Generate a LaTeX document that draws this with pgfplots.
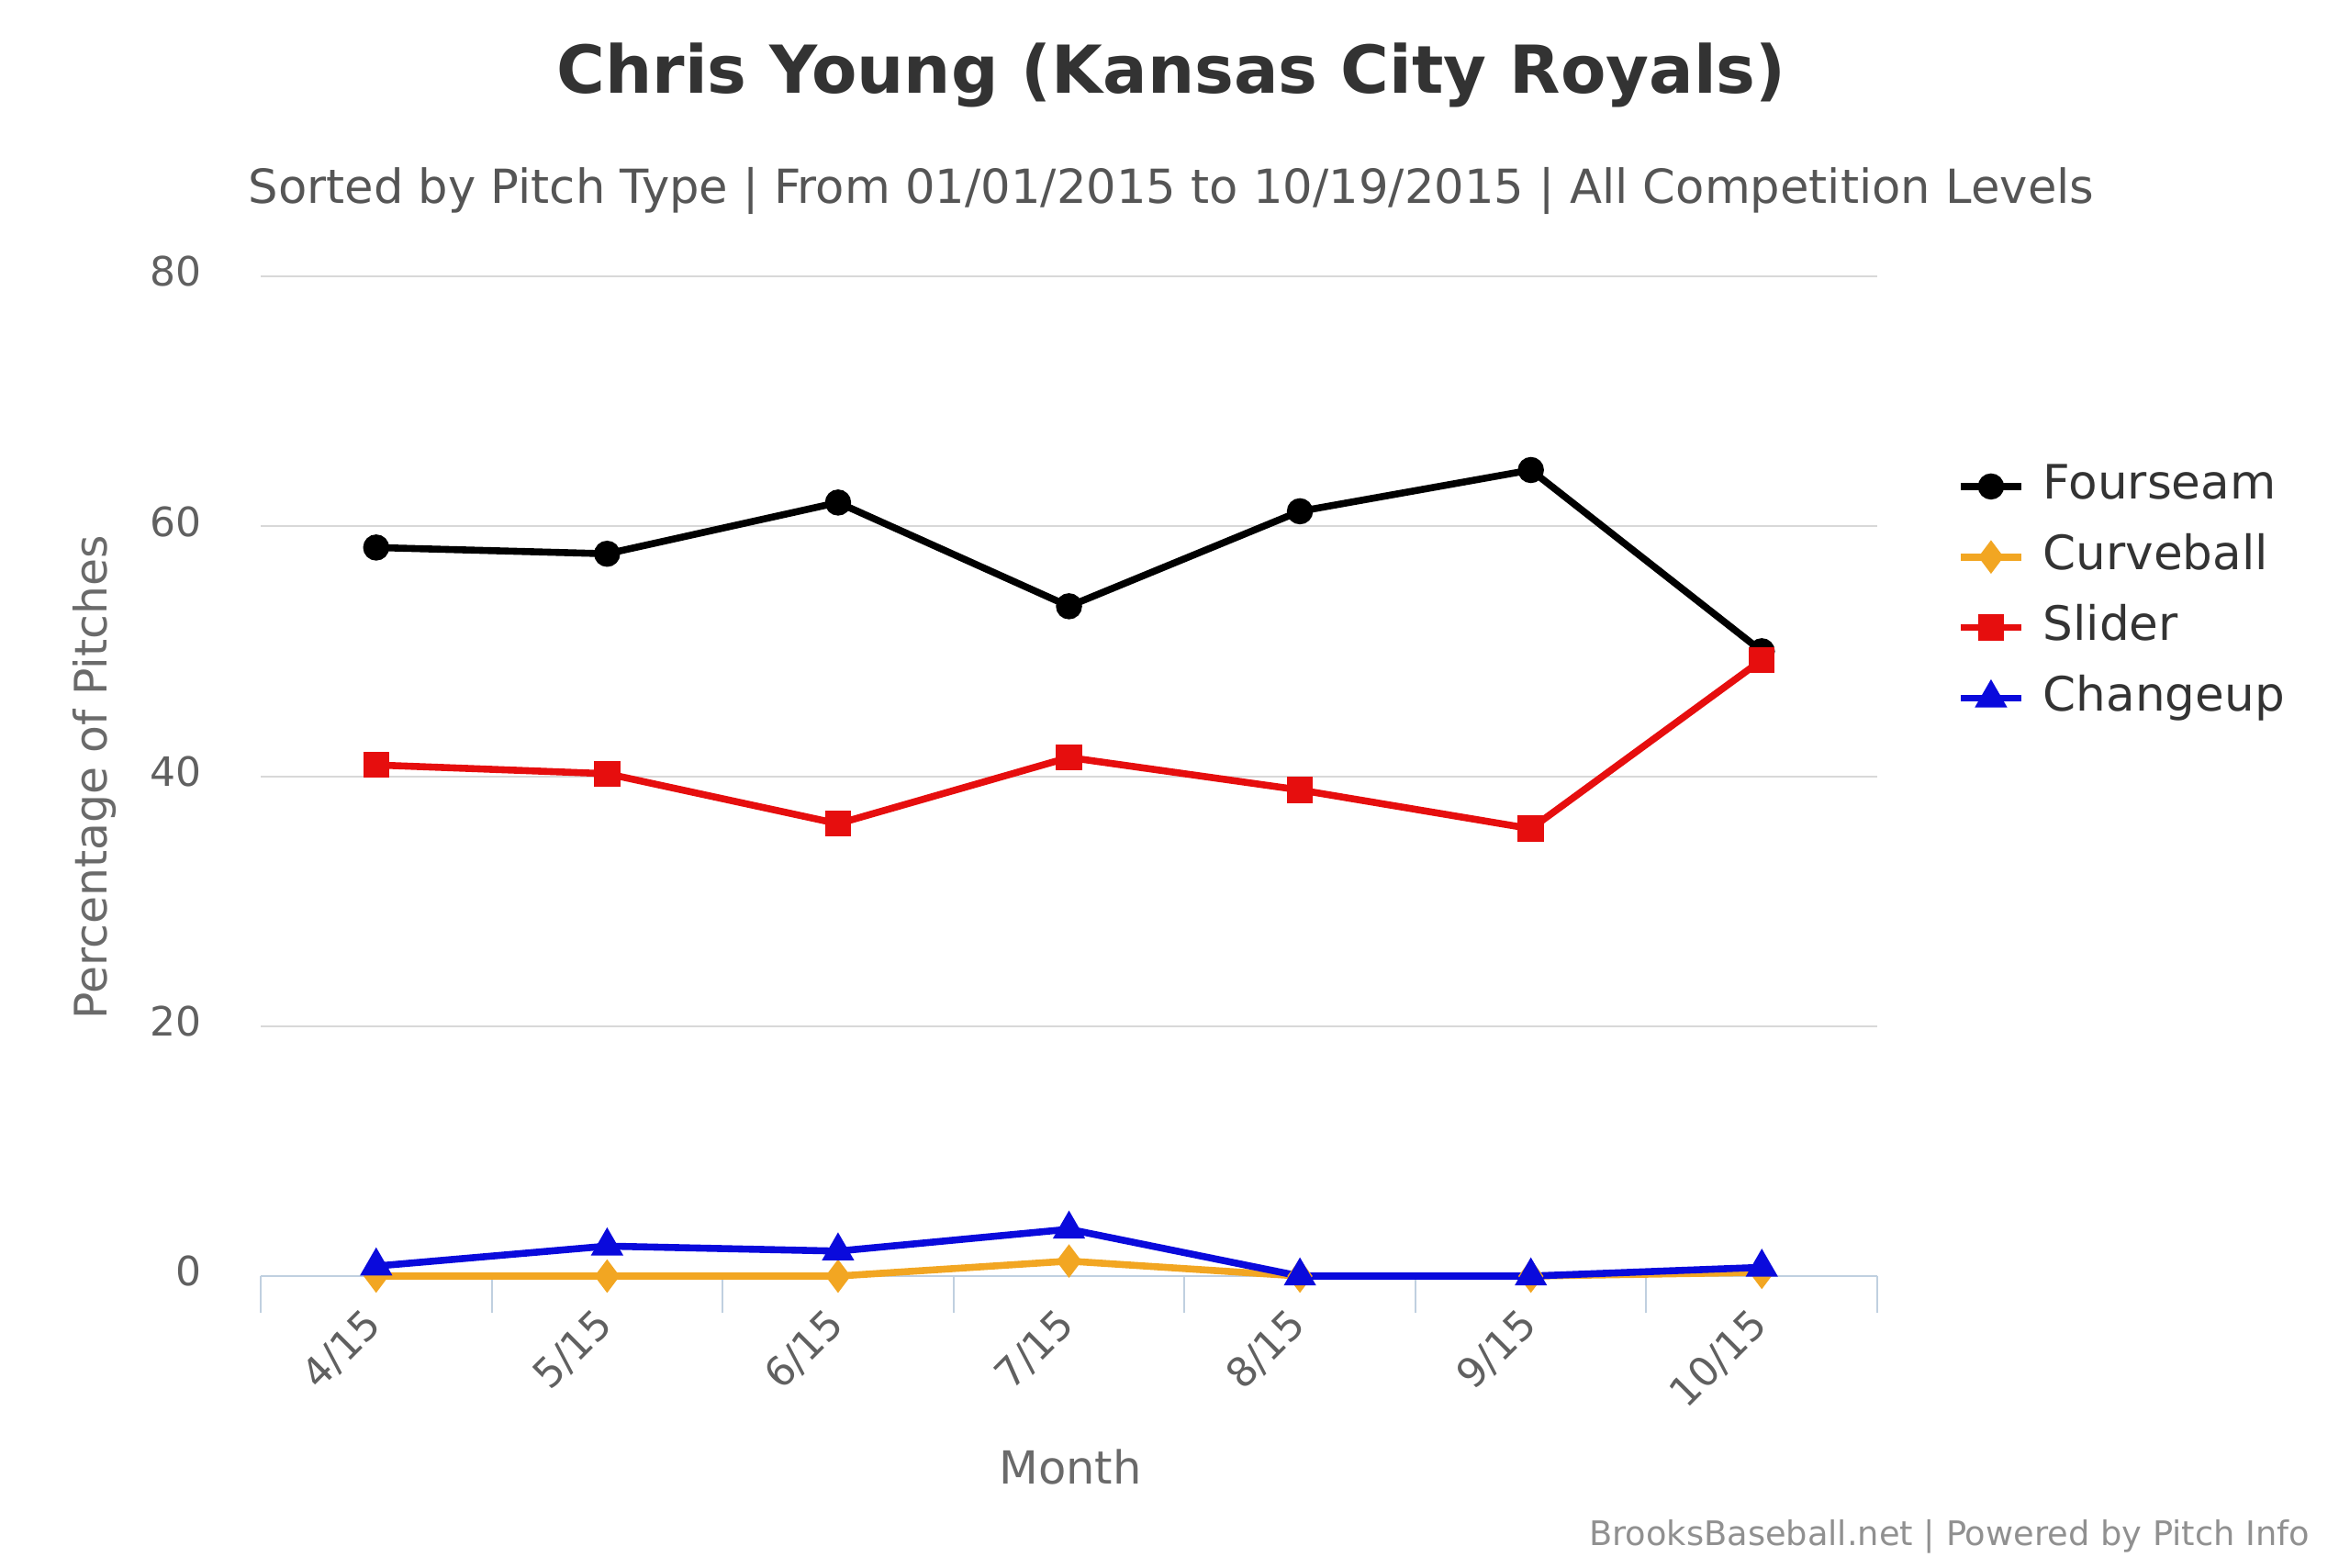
\documentclass[border=0pt]{standalone}
\usepackage{pgfplots}
\pgfplotsset{compat=1.18}
\usepackage{fontspec}
\setmainfont{DejaVu Sans}
\definecolor{titlec}{HTML}{333333}
\definecolor{subc}{HTML}{555555}
\definecolor{tickc}{HTML}{606060}
\definecolor{labc}{HTML}{6A6A6A}
\definecolor{credc}{HTML}{909090}
\definecolor{gridc}{HTML}{D8D8D8}
\definecolor{axc}{HTML}{C0D0E0}
\definecolor{fsc}{HTML}{000000}
\definecolor{cbc}{HTML}{F2A622}
\definecolor{slc}{HTML}{E60E0E}
\definecolor{chc}{HTML}{0A0ADC}

\pgfplotstableread{
x fs cb sl ch
0 58.3 0.0 40.9 0.8
1 57.8 0.0 40.2 2.4
2 61.9 0.0 36.2 2.0
3 53.6 1.2 41.5 3.75
4 61.2 0.0 38.9 0.0
5 64.5 0.0 35.8 0.0
6 50.0 0.3 49.3 0.7
}\datatable

\begin{document}
\begin{tikzpicture}[x=1bp,y=1bp]
\path[use as bounding box] (0,0) rectangle (640,426.75);
\node[anchor=base, text=titlec, font=\fontsize{18bp}{22bp}\selectfont\bfseries] at (319,401.3) {Chris Young (Kansas City Royals)};
\node[anchor=base, text=subc, font=\fontsize{12.8bp}{15bp}\selectfont] at (319,371.3) {Sorted by Pitch Type | From 01/01/2015 to 10/19/2015 | All Competition Levels};
\node[anchor=base, text=labc, font=\fontsize{12.4bp}{15bp}\selectfont] at (291.5,22.6) {Month};
\node[rotate=90, text=labc, font=\fontsize{12.2bp}{15bp}\selectfont] at (25.7,215) {Percentage of Pitches};
\node[anchor=base east, text=credc, font=\fontsize{9.2bp}{11bp}\selectfont] at (632.5,6) {BrooksBaseball.net | Powered by Pitch Info};
\begin{axis}[
  at={(71bp,79.25bp)}, anchor=south west,
  scale only axis, width=440.25bp, height=272.25bp,
  clip=false,
  xmin=-0.5, xmax=6.5, ymin=0, ymax=80,
  axis x line*=bottom, axis y line*=left,
  x axis line style={draw=axc, line width=0.6bp},
  y axis line style={draw=none},
  xtick={0,1,2,3,4,5,6},
  xticklabels={4/15,5/15,6/15,7/15,8/15,9/15,10/15},
  minor xtick={-0.5,0.5,1.5,2.5,3.5,4.5,5.5,6.5},
  ytick={0,20,40,60,80},
  major tick length=0pt, minor tick length=10bp,
  tick align=outside,
  minor x tick style={draw=axc, line width=0.5bp},
  ymajorgrids, grid style={draw=gridc, line width=0.5bp},
  /pgf/number format/assume math mode=true,
  yticklabel style={font=\fontsize{11bp}{13bp}\selectfont, text=tickc, anchor=east, xshift=-12.5bp, yshift=1.3bp},
  xticklabel style={font=\fontsize{11bp}{13bp}\selectfont, text=tickc, yshift=-9bp, xshift=2bp, rotate=45, anchor=east},
  legend cell align=left,
  legend style={at={(1.049,0.684)}, anchor=west, draw=none, fill=none, inner sep=0pt,
    font=\fontsize{12.9bp}{15bp}\selectfont, text=titlec,
    nodes={text height=10bp, text depth=3bp, inner sep=0pt},
    row sep=6.2bp, column sep=5bp},
  legend image code/.code={\draw[mark repeat=2,mark phase=2,#1] plot coordinates {(0bp,0bp) (8.25bp,0bp) (16.5bp,0bp)};},
  every axis plot/.append style={line width=1.9bp},
]
\addplot[color=fsc, mark=*, mark size=2.6bp, mark options={solid}] table[x=x,y=fs] {\datatable};
\addlegendentry{Fourseam}
\addplot[color=cbc, mark=diamond*, mark size=3bp, mark options={solid}] table[x=x,y=cb] {\datatable};
\addlegendentry{Curveball}
\addplot[color=slc, mark=square*, mark size=2.6bp, mark options={solid}] table[x=x,y=sl] {\datatable};
\addlegendentry{Slider}
\addplot[color=chc, mark=triangle*, mark size=3.2bp, mark options={solid}] table[x=x,y=ch] {\datatable};
\addlegendentry{Changeup}
\end{axis}
\end{tikzpicture}
\end{document}
